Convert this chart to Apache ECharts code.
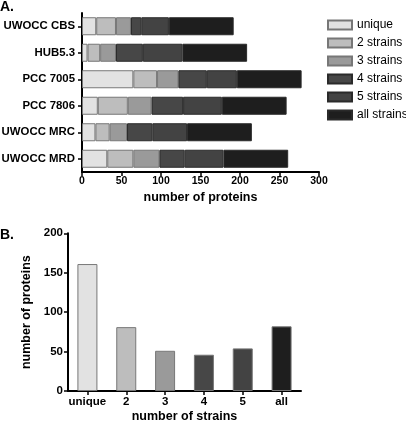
<!DOCTYPE html>
<html>
<head>
<meta charset="utf-8">
<script src="https://cdn.jsdelivr.net/npm/echarts@6/dist/echarts.min.js"></script>
<style>html,body{margin:0;padding:0;background:#fff;}#c{width:406px;height:421px;}</style>
</head>
<body>
<div id="c"></div>
<script>
var strains = ['UWOCC CBS', 'HUB5.3', 'PCC 7005', 'PCC 7806', 'UWOCC MRC', 'UWOCC MRD'];
var seriesNames = ['unique', '2 strains', '3 strains', '4 strains', '5 strains', 'all strains'];
var uniqueVals = [18, 7, 65, 20, 17, 32];
var twoVals = [25, 16, 30, 38, 18, 33];
var threeVals = [19, 20, 27, 30, 22, 33];
var fourVals = [13, 34, 36, 40, 32, 32];
var fiveVals = [35, 50, 38, 49, 44, 49];
var allVals = [82, 82, 82, 82, 82, 82];
var xTicksA = [0, 50, 100, 150, 200, 250, 300];

var strainCats = ['unique', '2', '3', '4', '5', 'all'];
var strainCounts = [161, 81, 51, 46, 54, 82];
var yTicksB = [0, 50, 100, 150, 200];

var colors = ['#e2e2e2', '#bdbdbd', '#9a9a9a', '#474747', '#434343', '#1e1e1e'];
var font = 'Liberation Sans, Arial, sans-serif';

var chart = echarts.init(document.getElementById('c'), null, {renderer: 'canvas'});
var stackVals = [uniqueVals, twoVals, threeVals, fourVals, fiveVals, allVals];

var series = seriesNames.map(function (n, i) {
  return {
    name: n, type: 'bar', stack: 'a', xAxisIndex: 0, yAxisIndex: 0,
    data: stackVals[i], barCategoryGap: '32%',
    itemStyle: {color: colors[i], borderColor: i < 3 ? '#777' : '#2a2a2a', borderWidth: 1},
    emphasis: {disabled: true}
  };
});
series.push({
  name: 'B', type: 'bar', xAxisIndex: 1, yAxisIndex: 1, barWidth: 20,
  data: strainCounts.map(function (v, i) {
    return {value: v, itemStyle: {color: colors[i]}};
  }),
  itemStyle: {borderColor: '#777', borderWidth: 1},
  emphasis: {disabled: true}
});

var axisLineStyle = {color: '#000', width: 2};
var tickStyle = {color: '#000', width: 1.5};
function lbl(size, extra) {
  return Object.assign({color: '#000', fontFamily: font, fontWeight: 'bold', fontSize: size}, extra);
}
var nameStyle = {color: '#000', fontFamily: font, fontWeight: 'bold', fontSize: 12.5};

chart.setOption({
  animation: false,
  backgroundColor: '#fff',
  legend: {
    data: seriesNames, orient: 'vertical', left: 327, top: 18, padding: 0,
    itemWidth: 24, itemHeight: 9, itemGap: 4, icon: 'rect',
    textStyle: {color: '#000', fontFamily: font, fontSize: 12, lineHeight: 14}, selectedMode: false
  },
  graphic: [
    {type: 'text', left: 0, top: 0, style: {text: 'A.', font: 'bold 14px ' + font, fill: '#000'}},
    {type: 'text', left: 0, top: 228, style: {text: 'B.', font: 'bold 14px ' + font, fill: '#000'}}
  ],
  grid: [
    {left: 82, top: 13, width: 237, height: 159, outerBoundsMode: 'none', containLabel: false},
    {left: 68, top: 233.3, width: 233, height: 157.7, outerBoundsMode: 'none', containLabel: false}
  ],
  xAxis: [
    {
      type: 'value', gridIndex: 0, min: xTicksA[0], max: xTicksA[xTicksA.length - 1], interval: 50,
      name: 'number of proteins', nameLocation: 'middle', nameGap: 19,
      nameTextStyle: nameStyle,
      axisLine: {show: true, lineStyle: axisLineStyle},
      axisTick: {show: true, length: 4, lineStyle: tickStyle},
      axisLabel: lbl(10.5, {margin: 4}),
      splitLine: {show: false}
    },
    {
      type: 'category', gridIndex: 1, data: strainCats,
      name: 'number of strains', nameLocation: 'middle', nameGap: 19,
      nameTextStyle: nameStyle,
      axisLine: {show: true, lineStyle: axisLineStyle},
      axisTick: {show: true, length: 4, alignWithLabel: true, lineStyle: tickStyle},
      axisLabel: lbl(11.5, {margin: 5, interval: 0})
    }
  ],
  yAxis: [
    {
      type: 'category', gridIndex: 0, data: strains, inverse: true,
      axisLine: {show: true, lineStyle: axisLineStyle},
      axisTick: {show: true, length: 4, alignWithLabel: true, lineStyle: tickStyle},
      axisLabel: lbl(11.4, {margin: 7, interval: 0})
    },
    {
      type: 'value', gridIndex: 1, min: yTicksB[0], max: yTicksB[yTicksB.length - 1], interval: 50,
      name: 'number of proteins', nameLocation: 'middle', nameGap: 29, nameRotate: 90,
      nameTextStyle: nameStyle,
      axisLine: {show: true, lineStyle: axisLineStyle},
      axisTick: {show: true, length: 4, lineStyle: tickStyle},
      axisLabel: lbl(11.5, {margin: 5}),
      splitLine: {show: false}
    }
  ],
  series: series
});
</script>
</body>
</html>
